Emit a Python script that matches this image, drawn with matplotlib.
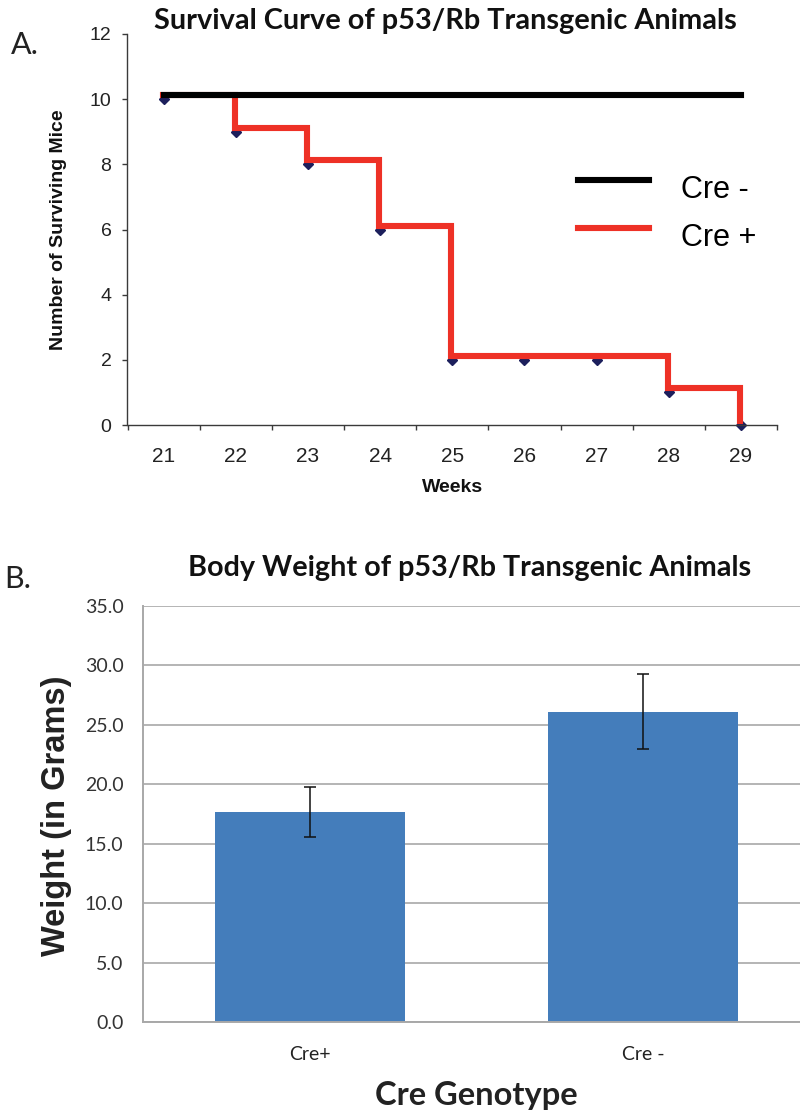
import matplotlib
matplotlib.use("Agg")
import matplotlib.pyplot as plt
import matplotlib.transforms as mtransforms
from matplotlib.legend_handler import HandlerLine2D
import numpy as np

# ---------------- data ----------------
weeks = [21, 22, 23, 24, 25, 26, 27, 28, 29]
cre_plus = [10, 9, 8, 6, 2, 2, 2, 1, 0]
cre_minus = [10, 10, 10, 10, 10, 10, 10, 10, 10]
survival_yticks = [0, 2, 4, 6, 8, 10, 12]

genotypes = ["Cre+", "Cre -"]
weights = [17.7, 26.1]
weight_err = [2.1, 3.15]
weight_yticks = [0.0, 5.0, 10.0, 15.0, 20.0, 25.0, 30.0, 35.0]

# ---------------- figure ----------------
W, H = 800, 1114
fig = plt.figure(figsize=(W / 100, H / 100), dpi=100)
fig.patch.set_facecolor("white")

ARIAL = ["Liberation Sans", "DejaVu Sans"]
CALIBRI = ["Lato", "DejaVu Sans"]

def fx(px):
    return px / W

def fy(py):
    return 1 - py / H


class RaisedLineHandler(HandlerLine2D):
    """Legend line drawn a little above the text centre (as in the original)."""
    def __init__(self, raise_pt=0, **kw):
        super().__init__(**kw)
        self.raise_pt = raise_pt

    def create_artists(self, legend, orig_handle, xdescent, ydescent, width,
                       height, fontsize, trans):
        return super().create_artists(legend, orig_handle, xdescent,
                                      ydescent - self.raise_pt, width, height,
                                      fontsize, trans)


# ===== Panel A =====
left, right, top, bottom = 127.5, 777, 34, 425
ax1 = fig.add_axes([fx(left), fy(bottom), fx(right - left), (bottom - top) / H])
ax1.set_xlim(20.5, 29.5)
ax1.set_ylim(0, 12)
for s in ["top", "right"]:
    ax1.spines[s].set_visible(False)
for s in ["left", "bottom"]:
    ax1.spines[s].set_color("#3a3a3a")
    ax1.spines[s].set_linewidth(1.0)

red_tr = mtransforms.offset_copy(ax1.transData, fig=fig, x=-1, y=4, units="dots")
blk_tr = mtransforms.offset_copy(ax1.transData, fig=fig, x=0, y=4, units="dots")

ax1.plot(weeks, cre_plus, linestyle="none", marker="D", markersize=5,
         color="#1c1f5c", zorder=2, clip_on=False)
red_line, = ax1.step(weeks, cre_plus, where="post", color="#ee3126", lw=4.4,
                     solid_joinstyle="miter", solid_capstyle="projecting",
                     transform=red_tr, zorder=3, clip_on=False, label="Cre +")
blk_line, = ax1.plot(weeks, cre_minus, color="black", lw=4.4,
                     solid_capstyle="projecting", transform=blk_tr, zorder=4,
                     clip_on=False, label="Cre -")

ax1.set_yticks(survival_yticks)
ax1.set_xticks(weeks)
ax1.set_xticks(np.arange(20.5, 29.6, 1.0), minor=True)
ax1.tick_params(axis="y", direction="out", length=3.6, width=1.0, color="#3a3a3a",
                pad=8, labelsize=14, labelcolor="#222222")
ax1.tick_params(axis="x", which="major", length=0, pad=16, labelsize=15,
                labelcolor="#222222")
ax1.tick_params(axis="x", which="minor", direction="out", length=3.6, width=1.0,
                color="#3a3a3a")
for lab in ax1.get_xticklabels() + ax1.get_yticklabels():
    lab.set_family(ARIAL)

ax1.set_ylabel("Number of Surviving Mice", family=ARIAL, fontweight="bold",
               fontsize=14, color="#111111")
ax1.yaxis.set_label_coords((66.7 - left) / (right - left), 0.5)
ax1.set_xlabel("Weeks", family=ARIAL, fontweight="bold", fontsize=14,
               color="#111111")
ax1.xaxis.set_label_coords(0.501, -(488 - bottom) / (bottom - top))
ax1.xaxis.label.set_va("center")

fig.legend([blk_line, red_line], ["Cre -", "Cre +"], loc="upper left",
           bbox_to_anchor=(fx(578), fy(174.5)), frameon=False, borderpad=0,
           borderaxespad=0, handlelength=2.32, handletextpad=1.05,
           labelspacing=0.6, prop={"family": ARIAL, "size": 22},
           handler_map={blk_line: RaisedLineHandler(raise_pt=10.5),
                        red_line: RaisedLineHandler(raise_pt=10.5)})

fig.text(fx(445), fy(28.5), "Survival Curve of p53/Rb Transgenic Animals",
         family=CALIBRI, fontweight="bold", fontsize=20.8, ha="center",
         va="baseline", color="#111111")
fig.text(fx(11), fy(53.5), "A.", family=CALIBRI, fontsize=22, ha="left",
         va="baseline", color="#222222")

# ===== Panel B =====
bl, br, bt, bb = 143, 810, 606, 1022
ax2 = fig.add_axes([fx(bl), fy(bb), fx(br - bl), (bb - bt) / H])
x = np.arange(len(genotypes))
ax2.set_xlim(-0.5, len(genotypes) - 0.5)
ax2.set_ylim(0, 35)
ax2.bar(x, weights, width=0.57, color="#447dbb", zorder=2)
ax2.errorbar(x, weights, yerr=weight_err, fmt="none", ecolor="#111111",
             elinewidth=1.1, capsize=4, capthick=1.1, zorder=3)
ax2.set_yticks(weight_yticks)
ax2.set_yticklabels([f"{v:.1f}" for v in weight_yticks])
ax2.set_xticks(x)
ax2.set_xticklabels(genotypes)
ax2.yaxis.grid(True, color="#a8a8a8", lw=1.2, zorder=0)
ax2.set_axisbelow(True)
for s in ["top", "right"]:
    ax2.spines[s].set_visible(False)
for s in ["left", "bottom"]:
    ax2.spines[s].set_color("#a8a8a8")
    ax2.spines[s].set_linewidth(1.4)
ax2.tick_params(axis="y", length=0, pad=14, labelsize=14, labelcolor="#333333")
ax2.tick_params(axis="x", length=0, pad=17, labelsize=14, labelcolor="#222222")
for lab in ax2.get_xticklabels() + ax2.get_yticklabels():
    lab.set_family(CALIBRI)

ax2.set_ylabel("Weight (in Grams)", family=ARIAL, fontweight="bold",
               fontsize=23.5, color="#222222")
ax2.yaxis.set_label_coords(-(bl - 57) / (br - bl), (bb - 816) / (bb - bt))
ax2.yaxis.label.set_va("center")
ax2.set_xlabel("Cre Genotype", family=CALIBRI, fontweight="bold", fontsize=23.5,
               color="#222222")
ax2.xaxis.set_label_coords((476 - bl) / (br - bl), -(1095 - bb) / (bb - bt))
ax2.xaxis.label.set_va("center")

fig.text(fx(469.5), fy(576), "Body Weight of p53/Rb Transgenic Animals",
         family=CALIBRI, fontweight="bold", fontsize=20.7, ha="center",
         va="baseline", color="#111111")
fig.text(fx(4), fy(588), "B.", family=CALIBRI, fontsize=22, ha="left",
         va="baseline", color="#222222")

fig.savefig("out.png", dpi=100, facecolor="white")
